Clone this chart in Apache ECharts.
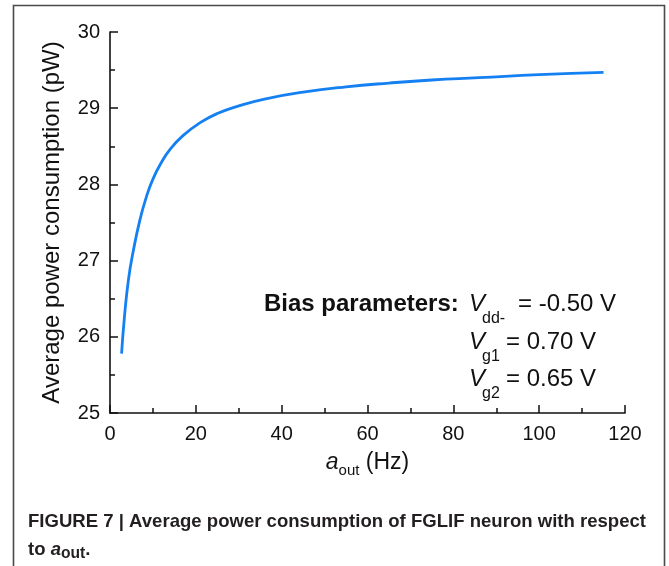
<!DOCTYPE html>
<html>
<head>
<meta charset="utf-8">
<script src="https://cdn.jsdelivr.net/npm/echarts@6/dist/echarts.min.js"></script>
<style>
  html, body { margin: 0; padding: 0; background: #fff; }
  #chart { width: 669px; height: 566px; }
</style>
</head>
<body>
<div id="chart"></div>
<script>
// Output firing rate a_out (Hz) and average power consumption (pW)
var rateHz = [2.7, 3.3, 4.3, 5.4, 7, 8.5, 10, 12, 14, 17, 21, 25, 30, 36, 45, 55, 65, 75, 86, 100, 115];
var powerPW = [25.78, 26.22, 26.75, 27.12, 27.54, 27.84, 28.07, 28.29, 28.46, 28.64, 28.81, 28.93, 29.03, 29.12, 29.21, 29.28, 29.33, 29.37, 29.40, 29.44, 29.47];

var xTicks = [0, 20, 40, 60, 80, 100, 120];
var yTicks = [25, 26, 27, 28, 29, 30];

var biasLines = [
  { sub: 'dd-', value: '= -0.50 V' },
  { sub: 'g1', value: '= 0.70 V' },
  { sub: 'g2', value: '= 0.65 V' }
];
var captionLine1 = 'FIGURE 7 | Average power consumption of FGLIF neuron with respect';

var FONT = '"Liberation Sans", Arial, Helvetica, sans-serif';

var chart = echarts.init(document.getElementById('chart'), null, { renderer: 'canvas' });

// width of a string in a given canvas font, used to squeeze the caption
function textWidth(str, font) {
  var c = document.createElement('canvas').getContext('2d');
  c.font = font;
  return c.measureText(str).width;
}

var capFont = 'bold 19px ' + FONT;
var capTarget = 618;
var capScale = capTarget / textWidth(captionLine1, capFont);

var points = rateHz.map(function (f, i) { return [f, powerPW[i]]; });

var graphics = [
  {
    type: 'rect',
    shape: { x: 13.5, y: 5.5, width: 651, height: 620 },
    style: { fill: 'none', stroke: '#4a4a4a', lineWidth: 1.6 },
    silent: true
  },
  {
    type: 'text', left: 264, top: 292,
    style: { text: 'Bias parameters:', font: 'bold 24px ' + FONT, fill: '#111' }
  }
];

var rowY = [292, 330, 367];
var valueX = [518, 506, 506];
biasLines.forEach(function (row, i) {
  graphics.push({
    type: 'text', left: 469, top: rowY[i],
    style: { text: 'V', font: 'italic 24px ' + FONT, fill: '#111' }
  });
  graphics.push({
    type: 'text', left: 482, top: rowY[i] + 19,
    style: { text: row.sub, font: '16px ' + FONT, fill: '#111' }
  });
  graphics.push({
    type: 'text', left: valueX[i], top: rowY[i],
    style: { text: row.value, font: '24px ' + FONT, fill: '#111' }
  });
});

// figure caption
graphics.push({
  type: 'text', x: 28, y: 512, scaleX: capScale,
  style: { text: captionLine1, font: capFont, fill: '#231f20' }
});
graphics.push({
  type: 'text', x: 28, y: 538, scaleX: capScale,
  style: {
    text: '{t|to }{a|a}{s|out}{t|.}',
    rich: {
      t: { font: 'bold 19px ' + FONT, fill: '#231f20', lineHeight: 24, verticalAlign: 'middle' },
      a: { font: 'bold italic 19px ' + FONT, fill: '#231f20', lineHeight: 24, verticalAlign: 'middle' },
      s: { font: 'bold 16px ' + FONT, fill: '#231f20', lineHeight: 16, verticalAlign: 'bottom' }
    }
  }
});

var option = {
  animation: false,
  backgroundColor: '#fff',
  grid: { left: 110, right: 44, top: 32, bottom: 153, containLabel: false },
  xAxis: {
    type: 'value',
    min: xTicks[0], max: xTicks[xTicks.length - 1], interval: 20,
    name: '{a|a}{s|out}{n| (Hz)}',
    nameLocation: 'middle', nameGap: 35,
    nameTextStyle: {
      rich: {
        a: { fontFamily: FONT, fontStyle: 'italic', fontSize: 23, color: '#111', lineHeight: 30, verticalAlign: 'middle' },
        s: { fontFamily: FONT, fontSize: 15, color: '#111', lineHeight: 15, verticalAlign: 'bottom' },
        n: { fontFamily: FONT, fontSize: 23, color: '#111', lineHeight: 30, verticalAlign: 'middle' }
      }
    },
    axisLine: { show: true, onZero: false, lineStyle: { color: '#111', width: 1.6 } },
    axisTick: { show: true, inside: true, length: 8, lineStyle: { color: '#111', width: 1.5 } },
    minorTick: { show: true, splitNumber: 2, length: 5, lineStyle: { color: '#111', width: 1.5 } },
    axisLabel: { fontFamily: FONT, fontSize: 20, color: '#111', margin: 11 },
    splitLine: { show: false }
  },
  yAxis: {
    type: 'value',
    min: yTicks[0], max: yTicks[yTicks.length - 1], interval: 1,
    name: 'Average power consumption (pW)',
    nameLocation: 'middle', nameGap: 46, nameRotate: 90,
    nameTextStyle: { fontFamily: FONT, fontSize: 24, color: '#111' },
    axisLine: { show: true, onZero: false, lineStyle: { color: '#111', width: 1.6 } },
    axisTick: { show: true, inside: true, length: 8, lineStyle: { color: '#111', width: 1.5 } },
    minorTick: { show: true, splitNumber: 2, length: 5, lineStyle: { color: '#111', width: 1.5 } },
    axisLabel: { fontFamily: FONT, fontSize: 20, color: '#111', margin: 10 },
    splitLine: { show: false }
  },
  series: [{
    type: 'line',
    data: points,
    smooth: true,
    showSymbol: false,
    lineStyle: { color: '#1580f2', width: 2.8 },
    clip: false
  }],
  graphic: graphics
};

chart.setOption(option);
</script>
</body>
</html>
